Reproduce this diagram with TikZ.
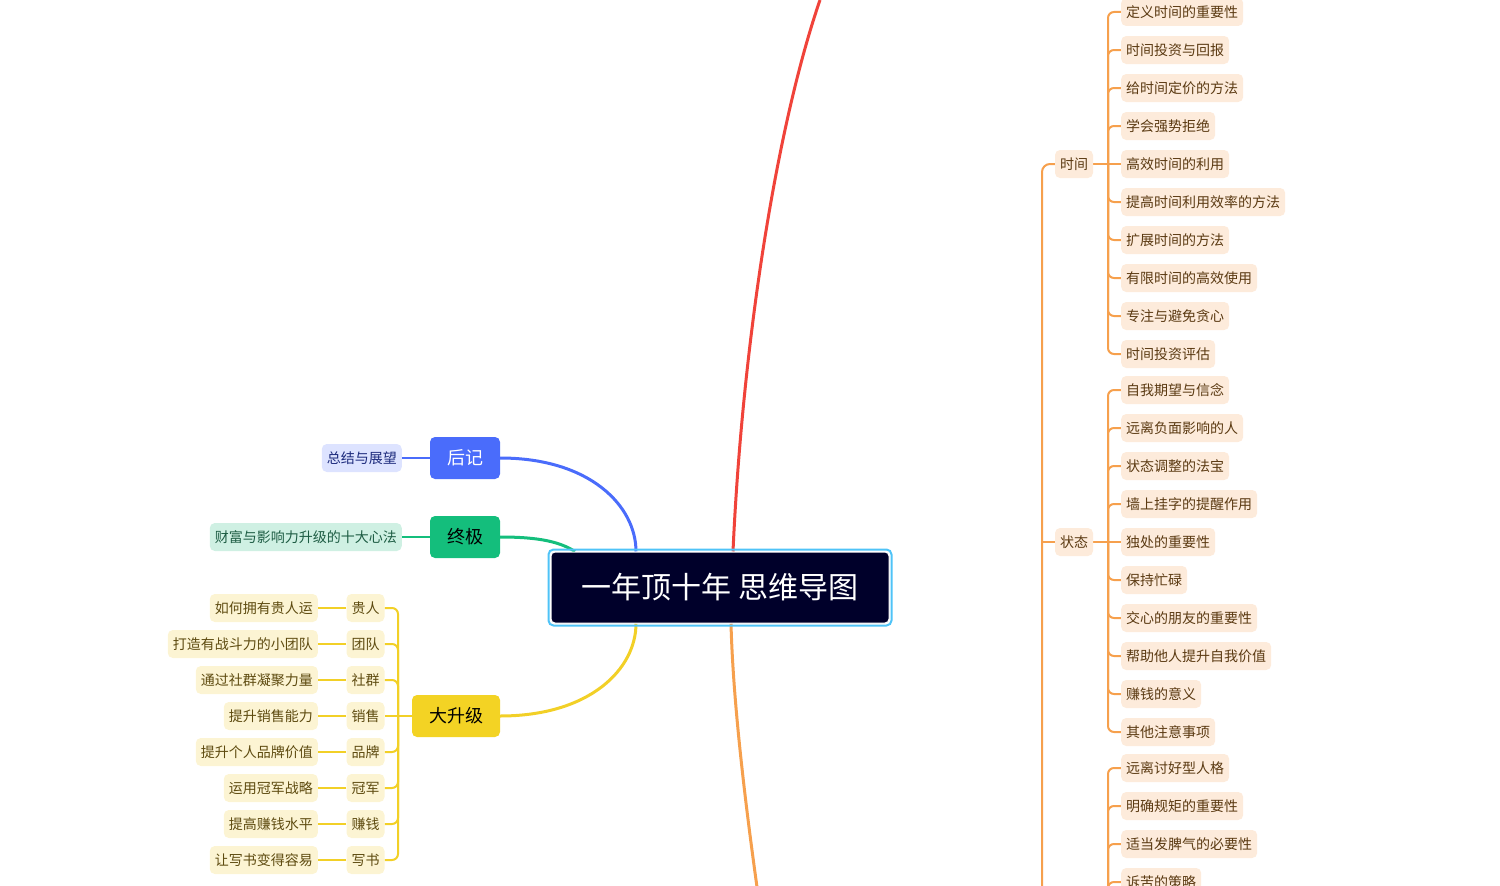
\documentclass[tikz,border=0pt]{standalone}
\usepackage{fontspec}
\setmainfont{Noto Sans CJK SC}
\usetikzlibrary{calc}
\definecolor{peach}{HTML}{FDEBDB}
\definecolor{brownO}{HTML}{5B3A12}
\definecolor{olinec}{HTML}{F6A04D}
\definecolor{yfill}{HTML}{FCF4D3}
\definecolor{brownY}{HTML}{5E4B10}
\definecolor{ylinec}{HTML}{F2D027}
\definecolor{ynode}{HTML}{F3D324}
\definecolor{darkc}{HTML}{00002A}
\definecolor{lblue}{HTML}{4FC3F7}
\definecolor{blueN}{HTML}{4A6CFB}
\definecolor{bfill}{HTML}{DDE3FF}
\definecolor{navy}{HTML}{1C2A7C}
\definecolor{greenN}{HTML}{14BE7C}
\definecolor{gfill}{HTML}{CFF0E3}
\definecolor{greenT}{HTML}{1D5C43}
\definecolor{redc}{HTML}{F0433A}
\pgfdeclarelayer{bg}
\pgfsetlayers{bg,main}
\tikzset{
  small/.style={rounded corners=5pt, font=\fontsize{14}{14}\selectfont, inner xsep=5pt, inner ysep=0pt, minimum height=28pt},
  leafO/.style={small, fill=peach, text=brownO, anchor=west},
  leafY/.style={small, fill=yfill, text=brownY},
  big/.style={rounded corners=5pt, font=\fontsize{18}{18}\selectfont, inner xsep=17pt, inner ysep=0pt, minimum height=42pt},
  oline/.style={draw=olinec, line width=2pt},
  yline/.style={draw=ylinec, line width=2pt},
  main/.style={line width=3pt},
}
\begin{document}
\begin{tikzpicture}[x=1pt,y=-1pt]
\useasboundingbox (0,-1) rectangle (1500,885);
\clip (0,-1) rectangle (1500,885);

% center
\node[fill=darkc, draw=white, line width=1pt, rounded corners=4pt, minimum width=338pt, minimum height=71pt, inner sep=0pt, text=white, font=\fontsize{30}{30}\selectfont] (c) at (720,586.5) {一年顶十年 思维导图};
\draw[lblue, line width=2pt, rounded corners=5pt] ([xshift=-2pt,yshift=2pt]c.north west) rectangle ([xshift=2pt,yshift=-2pt]c.south east);

% left big nodes
\node[big, fill=blueN, text=white] (hj) at (465,457) {后记};
\node[small, fill=bfill, text=navy, anchor=east] (hj1) at (402,457) {总结与展望};
\node[big, fill=greenN, text=black] (zj) at (465,536) {终极};
\node[small, fill=gfill, text=greenT, anchor=east] (zj1) at (402,536) {财富与影响力升级的十大心法};
\node[big, fill=ynode, text=black] (dsj) at (456,715) {大升级};

\coordinate (yb) at (398,715);
\foreach \a/\b [count=\i] in {贵人/如何拥有贵人运, 团队/打造有战斗力的小团队, 社群/通过社群凝聚力量, 销售/提升销售能力, 品牌/提升个人品牌价值, 冠军/运用冠军战略, 赚钱/提高赚钱水平, 写书/让写书变得容易} {
  \node[leafY] (y\i) at (365.5,{607+36*(\i-1)}) {\a};
  \node[leafY, anchor=east] (yy\i) at (318,{607+36*(\i-1)}) {\b};
}

% right orange nodes
\node[small, fill=peach, text=brownO] (sj) at (1074,163) {时间};
\node[small, fill=peach, text=brownO] (zt) at (1074,541) {状态};
\coordinate (tb) at (1108,163);
\coordinate (sb) at (1108,541);
\coordinate (ub) at (1108,930);
\coordinate (ov) at (1042,930);
\foreach \t [count=\i] in {定义时间的重要性, 时间投资与回报, 给时间定价的方法, 学会强势拒绝, 高效时间的利用, 提高时间利用效率的方法, 扩展时间的方法, 有限时间的高效使用, 专注与避免贪心, 时间投资评估} {
  \node[leafO] (t\i) at (1121,{11+38*(\i-1)}) {\t};
}
\foreach \t [count=\i] in {自我期望与信念, 远离负面影响的人, 状态调整的法宝, 墙上挂字的提醒作用, 独处的重要性, 保持忙碌, 交心的朋友的重要性, 帮助他人提升自我价值, 赚钱的意义, 其他注意事项} {
  \node[leafO] (s\i) at (1121,{389+38*(\i-1)}) {\t};
}
\foreach \t [count=\i] in {远离讨好型人格, 明确规矩的重要性, 适当发脾气的必要性, 诉苦的策略} {
  \node[leafO] (u\i) at (1121,{767+38*(\i-1)}) {\t};
}

\coordinate (redend) at (820,-1);
\coordinate (orgend) at (757,886);

\begin{pgfonlayer}{bg}
% main branches
\draw[main, redc] ([xshift=13pt]c.north) .. controls (742,350) and (775,130) .. (redend);
\draw[main, olinec] ([xshift=11pt]c.south) .. controls (733,700) and (745,800) .. (orgend);
\draw[main, blueN] (hj.east) .. controls (590,457) and (636,505) .. ([xshift=-84pt]c.north);
\draw[main, greenN] (zj.east) .. controls (540,536) and (560,541) .. ([xshift=-145pt]c.north);
\draw[main, ylinec] (dsj.east) .. controls (590,715) and (636,668) .. ([xshift=-84pt]c.south);
% left leaves
\draw[line width=2pt, blueN] (hj.west) -- (hj1.east);
\draw[line width=2pt, greenN] (zj.west) -- (zj1.east);
\draw[yline] (dsj.west) -- (y4.east);
\foreach \i in {1,2,3,5,6,7,8} {
  \draw[yline, rounded corners=6pt] (yb) -- (yb |- y\i.east) -- (y\i.east);
}
\foreach \i in {1,...,8} {
  \draw[yline] (y\i.west) -- (yy\i.east);
}
% right orange
\draw[oline, rounded corners=8pt] (ov) -- (ov |- sj.west) -- (sj.west);
\draw[oline] (ov |- zt.west) -- (zt.west);
\draw[oline] (sj.east) -- (t5.west);
\draw[oline] (zt.east) -- (s5.west);
\foreach \i in {1,2,3,4,6,7,8,9,10} {
  \draw[oline, rounded corners=6pt] (tb) -- (tb |- t\i.west) -- (t\i.west);
  \draw[oline, rounded corners=6pt] (sb) -- (sb |- s\i.west) -- (s\i.west);
}
\foreach \i in {1,...,4} {
  \draw[oline, rounded corners=6pt] (ub) -- (ub |- u\i.west) -- (u\i.west);
}
\end{pgfonlayer}
\end{tikzpicture}
\end{document}
